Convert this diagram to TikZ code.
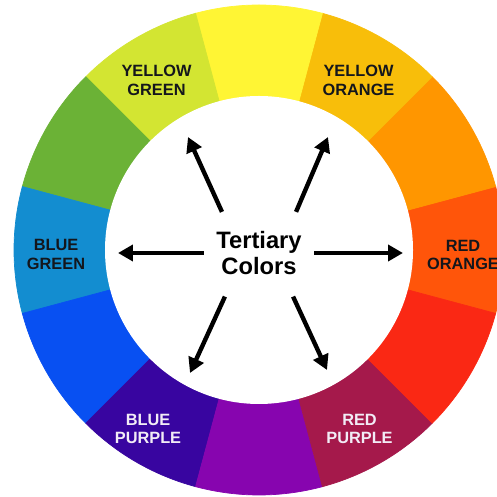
\documentclass[tikz,border=0pt]{standalone}
\usepackage{fontspec}
\setmainfont{Liberation Sans}
\usetikzlibrary{arrows.meta}
\definecolor{yellowseg}{HTML}{FFF534}
\definecolor{yellowgreen}{HTML}{D3E532}
\definecolor{greenseg}{HTML}{6BB236}
\definecolor{bluegreen}{HTML}{138DD0}
\definecolor{blueseg}{HTML}{0850F2}
\definecolor{bluepurple}{HTML}{3805A0}
\definecolor{purpleseg}{HTML}{8705AF}
\definecolor{redpurple}{HTML}{A5194B}
\definecolor{redseg}{HTML}{FA2814}
\definecolor{redorange}{HTML}{FF550A}
\definecolor{orangeseg}{HTML}{FF9600}
\definecolor{yelloworange}{HTML}{F8BE0A}
\definecolor{labeldark}{HTML}{14161C}
\definecolor{labellight}{HTML}{F2ECF6}
\tikzset{
  darklabel/.style={font=\fontsize{9.3}{10.5}\selectfont\bfseries, align=center, text=labeldark},
  lightlabel/.style={darklabel, text=labellight},
  title/.style={circle, minimum size=2.2cm, inner sep=0pt, align=center, font=\fontsize{13.5}{14.8}\selectfont\bfseries},
  pointer/.style={-{Triangle[length=3mm, width=3.2mm]}, line width=2.5pt, draw=black}
}

\begin{document}
\begin{tikzpicture}

\useasboundingbox (-5.18,-4.94) rectangle (4.76,5.00);
\clip (-5.18,-4.94) rectangle (4.76,5.00);
\fill[white] (-5.18,-4.94) rectangle (4.76,5.00);

\foreach \c [count=\i from 0] in {redorange, orangeseg, yelloworange, yellowseg, yellowgreen, greenseg, bluegreen, blueseg, bluepurple, purpleseg, redpurple, redseg}
  \fill[\c, draw=\c, line width=0.4pt] (0,0) -- ({30*\i-15}:4.9) arc[start angle={30*\i-15}, end angle={30*\i+15}, radius=4.9] -- cycle;
\fill[white] (0,0) circle (3.08);

\node[darklabel] (yg) at (-2.05,3.39) {YELLOW\\GREEN};
\node[darklabel] (yo) at (1.99,3.39) {YELLOW\\ORANGE};
\node[darklabel] (bg) at (-4.06,-0.09) {BLUE\\GREEN};
\node[darklabel] (ro) at (4.08,-0.10) {RED\\ORANGE};
\node[lightlabel] (bp) at (-2.22,-3.58) {BLUE\\PURPLE};
\node[lightlabel] (rp) at (2.01,-3.58) {RED\\PURPLE};

\node[title] (tert) at (0,-0.06) {Tertiary\\Colors};

\coordinate (tipyg) at (-1.42,2.26);
\coordinate (tipyo) at (1.38,2.26);
\coordinate (tipbg) at (-2.82,-0.06);
\coordinate (tipro) at (2.88,-0.06);
\coordinate (tipbp) at (-1.38,-2.46);
\coordinate (tiprp) at (1.36,-2.40);

\draw[pointer] (tert.132) -- (tipyg);
\draw[pointer] (tert.48) -- (tipyo);
\draw[pointer] (tert.180) -- (tipbg);
\draw[pointer] (tert.0) -- (tipro);
\draw[pointer] (tert.232) -- (tipbp);
\draw[pointer] (tert.-52) -- (tiprp);

\end{tikzpicture}
\end{document}
